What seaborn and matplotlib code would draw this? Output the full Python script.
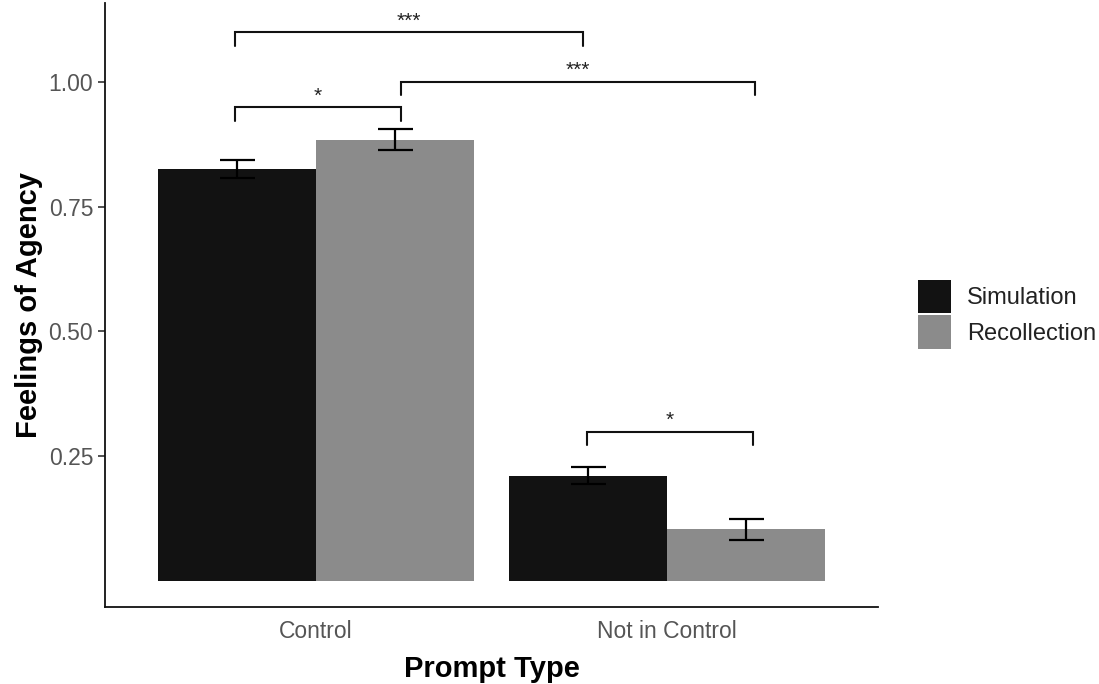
import matplotlib
matplotlib.use("Agg")
import matplotlib.pyplot as plt
import seaborn as sns
import pandas as pd
import numpy as np

# ---- data ----
prompt_types = ["Control", "Not in Control"]
conditions = ["Simulation", "Recollection"]
simulation_means = [0.826, 0.211]
recollection_means = [0.884, 0.104]
simulation_se = [0.018, 0.017]
recollection_se = [0.021, 0.021]

# significance brackets (x in category units, y in data units)
bracket_x1 = [-0.231, -0.231, 0.242, 0.771]
bracket_x2 = [0.242, 0.759, 1.251, 1.243]
bracket_y = [0.949, 1.0995, 1.000, 0.2995]
bracket_labels = ["*", "***", "***", "*"]

palette = {"Simulation": "#121212", "Recollection": "#8b8b8b"}

df = pd.DataFrame({
    "Prompt Type": prompt_types * 2,
    "Condition": ["Simulation"] * 2 + ["Recollection"] * 2,
    "Agency": simulation_means + recollection_means,
    "SE": simulation_se + recollection_se,
})

sns.set_theme(style="ticks")
plt.rcParams["font.family"] = ["Liberation Sans", "DejaVu Sans"]

fig = plt.figure(figsize=(10.99, 6.84), dpi=100)
ax = fig.add_axes([105 / 1099, 1 - 607 / 684, (878 - 105) / 1099, (607 - 3) / 684])

sns.barplot(data=df, x="Prompt Type", y="Agency", hue="Condition",
            order=prompt_types, hue_order=conditions, palette=palette,
            width=0.9, errorbar=None, linewidth=0, saturation=1, ax=ax)

# error bars at bar centres
for cont, cond in zip(ax.containers, conditions):
    sub = df[df["Condition"] == cond].set_index("Prompt Type").loc[prompt_types]
    xs = [p.get_x() + p.get_width() / 2 for p in cont.patches]
    ax.errorbar(xs, sub["Agency"].values, yerr=sub["SE"].values, fmt="none",
                ecolor="#000000", elinewidth=1.6, capsize=12.6, capthick=1.6, zorder=5)

# brackets
leg = 0.027
for x1, x2, y, lab in zip(bracket_x1, bracket_x2, bracket_y, bracket_labels):
    ax.plot([x1, x1, x2, x2], [y - leg, y, y, y - leg], color="#111111",
            lw=1.5, solid_joinstyle="miter", zorder=5)
    ax.annotate(lab, xy=((x1 + x2) / 2, y), xytext=(0, 4), textcoords="offset points",
                ha="center", va="baseline", fontsize=15, color="#222222")

ax.set_xlim(-0.6, 1.6)
ax.set_ylim(-0.052, 1.158)
ax.set_yticks([0.25, 0.50, 0.75, 1.00])
ax.set_yticklabels(["0.25", "0.50", "0.75", "1.00"])

sns.despine(ax=ax)
for s in ["left", "bottom"]:
    ax.spines[s].set_linewidth(1.3)
    ax.spines[s].set_color("#111111")

ax.tick_params(axis="y", length=5, width=1.2, color="#333333", pad=3.5,
               labelsize=16.5, labelcolor="#555555")
ax.tick_params(axis="x", length=0, pad=9, labelsize=16.5, labelcolor="#555555")

ax.set_xlabel("Prompt Type", fontsize=21, fontweight="bold", labelpad=9, color="black")
ax.set_ylabel("Feelings of Agency", fontsize=21, fontweight="bold", labelpad=4, color="black")

handles, labels = ax.get_legend_handles_labels()
if ax.get_legend() is not None:
    ax.get_legend().remove()
fig.legend(handles, labels, loc="upper left",
           bbox_to_anchor=(918 / 1099, 1 - 280 / 684), frameon=False,
           fontsize=17, handlelength=1.4, handleheight=1.78, labelspacing=0.1,
           handletextpad=0.68, borderpad=0, borderaxespad=0, labelcolor="#222222")

fig.savefig("out.png", dpi=100)
